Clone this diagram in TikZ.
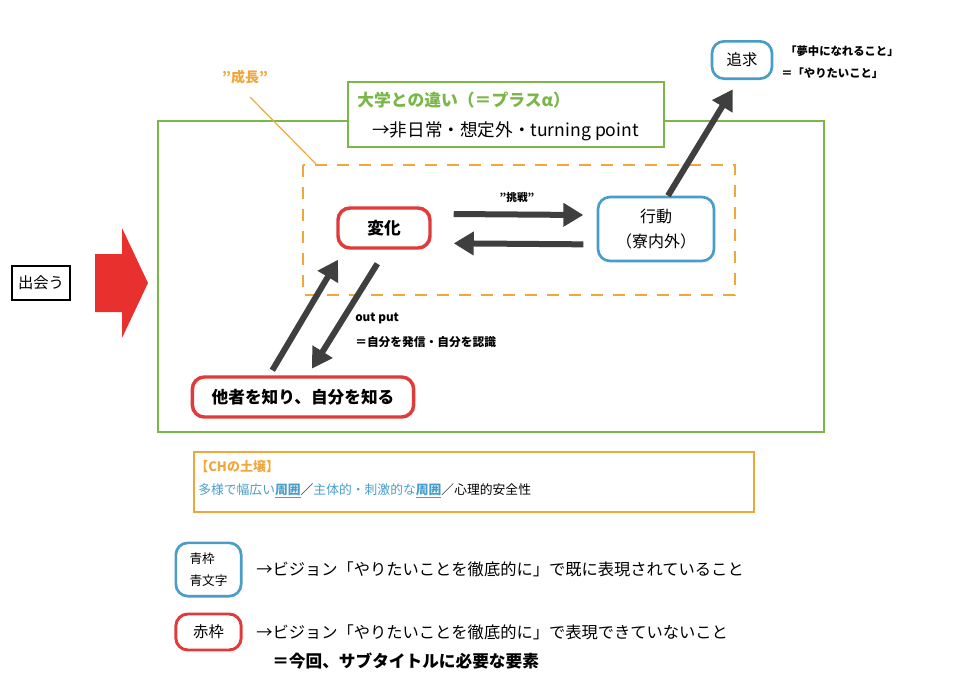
\documentclass[tikz,border=0pt]{standalone}
\usepackage{fontspec}
\setmainfont{Noto Sans CJK JP}
\usetikzlibrary{arrows.meta,positioning}
\definecolor{leafgreen}{HTML}{7AB648}
\definecolor{soilorange}{HTML}{F0A73A}
\definecolor{framered}{HTML}{E03B3B}
\definecolor{arrowred}{HTML}{E8312F}
\definecolor{skyblue}{HTML}{4A9DC9}
\definecolor{darkarrow}{HTML}{3F3F3F}
\newcommand{\fsz}[1]{\fontsize{#1}{#1}\selectfont}

\tikzset{
	redframe/.style={draw=framered,line width=2.6pt,rounded corners=9pt,fill=white,inner sep=0pt},
	blueframe/.style={draw=skyblue,line width=2pt,rounded corners=9pt,fill=white,inner sep=0pt},
	flow/.style={draw=darkarrow,line width=4.5pt,-{Triangle[length=15pt,width=17pt]}},
	txt/.style={inner sep=0pt,anchor=west}
}

\begin{document}
\begin{tikzpicture}[x=0.75pt,y=-0.75pt]
	\useasboundingbox (0,0) rectangle (960,679);
	% outer frame and title
	\draw[leafgreen,line width=1.1pt] (158,121) rectangle (824,432);
	\draw[leafgreen,line width=2.2pt,fill=white] (348,82) rectangle (664,147);
	\node[txt,text=leafgreen,font=\fsz{12.6}\bfseries] (title) at (357,100) {大学との違い（＝プラスα）};
	\node[txt,font=\fsz{13.2}] (turn) at (372,131) {→非日常・想定外・turning\hspace{3pt}point};
	% growth area
	\draw[soilorange,line width=2.2pt,dash pattern=on 9pt off 7.5pt] (303,165) rectangle (735,295);
	\node[text=soilorange,font=\fsz{10.5}\bfseries,inner sep=0pt] (growth) at (245,77) {"成長"};
	\coordinate (growthend) at (316,164);
	\draw[soilorange,line width=0.9pt] (250,97) -- (growthend);
	% nodes
	\node[redframe,minimum width=69pt,minimum height=30pt,font=\fsz{12.5}\bfseries] (change) at (384,228) {変化};
	\node[blueframe,minimum width=87pt,minimum height=48pt,align=center,font=\fsz{12}] (act) at (656,229) {行動\\[7pt]（寮内外）};
	\node[blueframe,minimum width=45pt,minimum height=28pt,font=\fsz{11.5}] (pursue) at (742,60) {追求};
	\node[redframe,minimum width=166pt,minimum height=30pt,font=\fsz{12.5}\bfseries] (others) at (303,397) {他者を知り、自分を知る};
	\node[draw=black,line width=1.5pt,minimum width=43pt,minimum height=25pt,inner sep=0pt,font=\fsz{11.5}] (meet) at (41,283) {出会う};
	% connectors
	\draw[flow] ([xshift=16.5pt,yshift=10.5pt]change.east) -- ([xshift=-10pt,yshift=10.5pt]act.west);
	\draw[flow] ([xshift=-10pt,yshift=-11.5pt]act.west) -- ([xshift=16.5pt,yshift=-11.5pt]change.east);
	\draw[flow] ([xshift=9pt]act.north) -- ([xshift=-7pt,yshift=-7pt]pursue.south);
	\draw[flow] ([xshift=-23pt,yshift=3.75pt]others.north) -- ([xshift=-34.5pt,yshift=-7.5pt]change.south);
	\draw[flow] ([xshift=-5pt,yshift=-10.5pt]change.south) -- ([xshift=6.75pt,yshift=5pt]others.north);
	\node[font=\fsz{8}\bfseries,inner sep=0pt] (challenge) at (517,197) {"挑戦"};
	\node[txt,font=\fsz{8.8}\bfseries,anchor=north west,align=left] (output) at (355,313) {out put\\[8pt]＝自分を発信・自分を認識};
	\node[txt,font=\fsz{8.5}\bfseries,anchor=north west,align=left] (dream) at (785,46) {「夢中になれること」\\[8pt]\hspace*{-3pt}＝「やりたいこと」};
	% meeting arrow
	\fill[arrowred] (95,254) -- (122,254) -- (122,228) -- (148,283) -- (122,338) -- (122,312) -- (95,312) -- cycle;
	% soil box
	\draw[soilorange,line width=0.9pt] (194,452) rectangle (754,512);
	\node[txt,text=soilorange,font=\fsz{9.75}\bfseries] (soil) at (195,467) {【CHの土壌】};
	\node[txt,font=\fsz{9.6}] (soiltext) at (198,491) {\color{skyblue}多様で幅広い\underline{\textbf{周囲}}\color{black}／\color{skyblue}主体的・刺激的な\underline{\textbf{周囲}}\color{black}／心理的安全性};
	% legend
	\node[blueframe,minimum width=49pt,minimum height=40pt,align=left,font=\fsz{9.5}] (bluekey) at (208.5,569.5) {青枠\\[7pt]青文字};
	\node[redframe,line width=2.2pt,minimum width=49pt,minimum height=27pt,font=\fsz{11.5}] (redkey) at (208.5,632) {赤枠};
	\node[txt,font=\fsz{12.2}] (bluenote) at (256,569) {→ビジョン「やりたいことを徹底的に」で既に表現されていること};
	\node[txt,font=\fsz{12.2}] (rednote) at (256,632) {→ビジョン「やりたいことを徹底的に」で表現できていないこと};
	\node[txt,font=\fsz{12.5}\bfseries] (subtitle) at (272,661) {＝今回、サブタイトルに必要な要素};
\end{tikzpicture}
\end{document}
